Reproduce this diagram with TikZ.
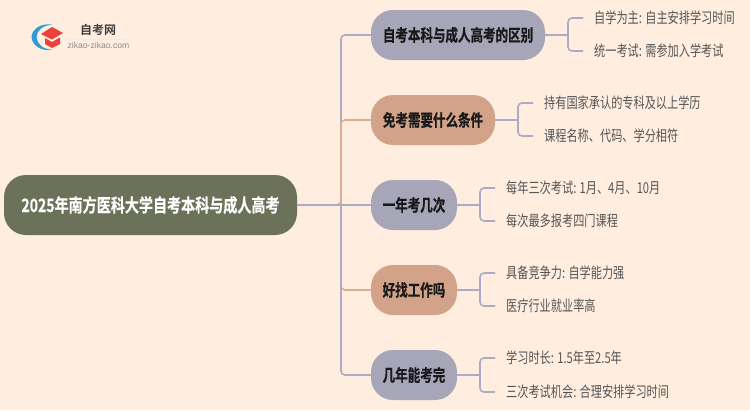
\documentclass[tikz,border=0pt]{standalone}
\usepackage{fontspec}
\usepackage{xcolor}
\setmainfont{Liberation Sans}
\newfontfamily\cjkleaf[FakeStretch=0.745]{Noto Sans CJK SC}
\newfontfamily\cjkbold[FakeStretch=0.75,FakeBold=0.6]{Noto Sans CJK SC Bold}
\newfontfamily\cjkroot[FakeStretch=0.76,FakeBold=0.4]{Noto Sans CJK SC Bold}
\newfontfamily\cjklogo{Noto Sans CJK SC Bold}
\definecolor{pagebg}{HTML}{FFEEE0}
\definecolor{rootgreen}{HTML}{6B7259}
\definecolor{boxgrey}{HTML}{A7A6B8}
\definecolor{boxtan}{HTML}{D2A388}
\definecolor{linkgrey}{HTML}{ABABC4}
\definecolor{linktan}{HTML}{DBAC92}
\definecolor{leaftext}{HTML}{555555}
\definecolor{logoblue}{HTML}{2E9BD6}
\definecolor{logored}{HTML}{E8423F}
\tikzset{
    rootbox/.style={rectangle, fill=rootgreen, rounded corners=22pt, minimum width=293pt, minimum height=60pt, inner sep=0pt, text=white, font=\cjkroot\fontsize{18.5}{20}\selectfont},
    greybox/.style={rectangle, fill=boxgrey, rounded corners=22pt, minimum height=50pt, inner sep=0pt, text=black!90, font=\cjkbold\fontsize{16.7}{18}\selectfont},
    tanbox/.style={greybox, fill=boxtan},
    leaf/.style={anchor=west, inner xsep=11pt, inner ysep=0pt, text=leaftext, font=\cjkleaf\fontsize{15}{16}\selectfont},
    greylink/.style={draw=linkgrey, line width=1.6pt, rounded corners=4pt},
    tanlink/.style={draw=linktan, line width=1.6pt, rounded corners=4pt},
}
\begin{document}
\begin{tikzpicture}[x=1pt, y=-1pt]
    \fill[pagebg] (0,0) rectangle (750,410);

    % logo
    \fill[logoblue] (52,24.5) .. controls (41,23) and (32,29) .. (31.5,37) .. controls (32,45) and (41,52) .. (52,49.5) .. controls (43,49.5) and (37,44) .. (36.5,37) .. controls (37,30) and (43,25.5) .. (52,24.5) -- cycle;
    \fill[logored] (41,34) -- (52,27) -- (63,33) -- (52,39.5) -- cycle;
    \fill[logored] (45,38) -- (52,42) -- (60,37.5) -- (60,44) -- (52,48) -- (45,44) -- cycle;
    \node (logotitle) at (98,30) {\cjklogo\fontsize{12}{13}\selectfont\color{black!75}自考网};
    \node (logourl) at (98.5,45) {\fontsize{8.6}{10}\selectfont\color{black!45}zikao-zikao.com};
    \draw[black!8, line width=0.5pt] (66,39) -- (131,39);

    % root and branches
    \node[rootbox] (root) at (150.5,205) {2025年南方医科大学自考本科与成人高考};
    \node[greybox, minimum width=174pt] (diff) at (458,35) {自考本科与成人高考的区别};
    \node[tanbox, minimum width=124pt] (cond) at (433,120) {免考需要什么条件};
    \node[greybox, minimum width=86pt] (times) at (414,205) {一年考几次};
    \node[tanbox, minimum width=86pt] (work) at (414,290) {好找工作吗};
    \node[greybox, minimum width=86pt] (years) at (414,375) {几年能考完};

    % leaves
    \node[leaf] (diffa) at (583,18) {自学为主: 自主安排学习时间};
    \node[leaf] (diffb) at (583,51) {统一考试: 需参加入学考试};
    \node[leaf] (conda) at (533,103) {持有国家承认的专科及以上学历};
    \node[leaf] (condb) at (533,136) {课程名称、代码、学分相符};
    \node[leaf] (timesa) at (495,188) {每年三次考试: 1月、4月、10月};
    \node[leaf] (timesb) at (495,221) {每次最多报考四门课程};
    \node[leaf] (worka) at (495,273) {具备竞争力: 自学能力强};
    \node[leaf] (workb) at (495,306) {医疗行业就业率高};
    \node[leaf] (yearsa) at (495,358) {学习时长: 1.5年至2.5年};
    \node[leaf] (yearsb) at (495,392) {三次考试机会: 合理安排学习时间};

    \coordinate (spine) at (341,205);
    \coordinate (diffj) at (568,35);
    \coordinate (condj) at (518,120);
    \coordinate (timesj) at (480,205);
    \coordinate (workj) at (480,290);
    \coordinate (yearsj) at (480,375);

    % connectors
    \draw[greylink] (root.east) -- (spine) |- (diff.west);
    \draw[tanlink] (spine) |- (cond.west);
    \draw[greylink] (root.east) -- (times.west);
    \draw[tanlink] (spine) |- (work.west);
    \draw[greylink] (spine) |- (years.west);

    \draw[greylink] (diffa.west) -| (diffj) |- (diffb.west);
    \draw[greylink] (diff.east) -- (diffj);
    \draw[greylink] (conda.west) -| (condj) |- (condb.west);
    \draw[greylink] (cond.east) -- (condj);
    \draw[greylink] (timesa.west) -| (timesj) |- (timesb.west);
    \draw[greylink] (times.east) -- (timesj);
    \draw[greylink] (worka.west) -| (workj) |- (workb.west);
    \draw[greylink] (work.east) -- (workj);
    \draw[greylink] (yearsa.west) -| (yearsj) |- (yearsb.west);
    \draw[greylink] (years.east) -- (yearsj);
\end{tikzpicture}
\end{document}
